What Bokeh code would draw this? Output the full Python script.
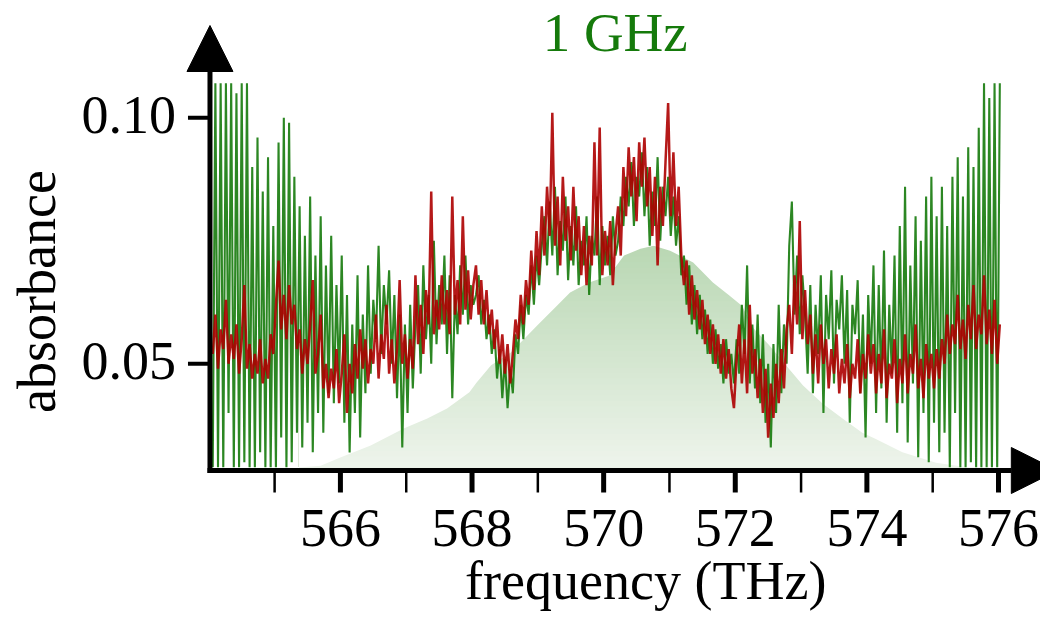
import numpy as np
from bokeh.plotting import figure
from bokeh.models import Range1d, Arrow, NormalHead
from bokeh.core.properties import value
from bokeh.embed import file_html
from bokeh.resources import INLINE

# ---------------- data ----------------
freq_start = 564.06   # THz, first sample
freq_step = 0.04      # THz between samples

# absorbance in units of 1e-3 (as seen in the plotted window), 25 samples per THz row
red_milli = [
    52,60,49,57,53,63,50,56,51,58,48,55,66,49,54,47,52,48,55,46,51,47,56,52,62,
    71,57,64,55,66,58,62,53,57,48,55,50,58,67,48,52,60,45,50,43,49,45,53,42,48,
    56,40,50,44,54,47,57,49,55,46,53,50,60,47,56,51,62,48,55,46,53,67,50,56,47,
    55,49,68,54,62,52,65,58,85,56,63,57,68,58,65,56,84,60,67,58,80,61,69,59,66,
    70,60,67,58,65,56,61,53,59,50,56,48,54,46,52,59,55,64,58,67,62,73,65,77,68,
    82,72,86,76,101,74,84,70,88,75,82,71,86,73,80,68,78,66,76,70,95,72,98,68,77,
    70,79,66,76,82,72,90,80,94,84,92,79,95,86,96,82,90,76,88,70,86,78,91,103,80,
    93,78,86,72,66,71,60,68,59,65,57,63,54,60,52,58,50,56,48,55,47,53,45,41,51,
    58,46,55,44,62,48,53,43,51,40,49,35,46,39,50,42,53,45,57,62,52,68,58,79,55,
    65,54,60,48,56,46,58,50,55,45,53,48,56,44,51,46,54,43,50,47,55,44,52,47,56,
    48,54,44,52,46,57,43,50,47,55,42,51,46,56,44,52,48,58,45,51,43,54,47,52,45,
    53,47,55,50,60,52,58,54,64,53,59,51,62,55,66,53,60,56,68,54,61,52,63,50,58,
]
green_milli = [
    29,107,29,107,29,107,40,107,29,105,29,107,30,107,29,90,29,96,32,85,29,92,29,78,29,
    95,35,100,29,99,30,88,36,82,33,76,38,84,32,72,40,80,36,70,44,76,42,66,46,72,
    38,64,32,58,40,68,35,60,44,70,48,63,55,74,52,66,58,69,50,64,43,60,33,58,40,
    62,45,58,66,48,70,55,64,50,75,54,66,58,72,52,68,43,64,56,70,60,72,58,66,62,
    64,68,58,63,55,60,52,57,47,53,43,51,41,49,44,56,52,62,55,64,60,70,62,72,66,
    74,80,70,83,72,86,68,79,73,84,67,78,70,82,66,75,70,80,64,76,72,84,66,78,70,
    76,68,80,72,75,84,78,88,82,91,78,88,84,93,80,90,74,85,78,92,75,86,80,88,76,
    84,74,80,68,72,62,70,58,66,56,64,55,61,52,59,50,57,49,54,46,55,48,52,46,55,
    48,62,52,70,46,58,45,60,42,56,38,50,33,54,40,62,44,58,50,74,83,60,72,56,68,
    60,48,66,44,62,52,68,40,64,55,69,46,63,57,68,50,65,38,62,56,67,44,60,35,64,
    50,70,40,66,45,73,38,62,48,72,36,78,42,86,34,70,46,80,31,75,40,84,30,88,38,
    80,32,86,36,78,29,88,40,92,29,84,29,94,30,90,29,98,29,107,29,104,29,107,29,107,
]

# shaded reference profile
profile_freq = [565.37,565.70,565.97,566.46,566.97,567.32,567.62,567.96,568.07,568.29,
                568.59,568.99,569.29,569.49,569.78,570.08,570.31,570.56,570.76,571.01,
                571.36,571.66,571.91,572.10,572.28,572.52,572.77,573.03,573.33,573.63,
                573.93,574.12,574.54,575.05,575.55,575.85]
profile_abs = [0.0289,0.0293,0.0308,0.0334,0.0369,0.0389,0.0409,0.0442,0.0462,0.0497,
               0.0523,0.0578,0.0618,0.0645,0.0665,0.0679,0.0720,0.0734,0.0740,0.0730,
               0.0706,0.0665,0.0639,0.0618,0.0572,0.0537,0.0497,0.0456,0.0419,0.0389,
               0.0360,0.0348,0.0320,0.0299,0.0289,0.0289]

x_ticks = [566, 568, 570, 572, 574, 576]
x_tick_labels = ["566", "568", "570", "572", "574", "576"]
x_minor_ticks = [565, 567, 569, 571, 573, 575]
y_ticks = [0.05, 0.10]
y_tick_labels = ["0.05", "0.10"]
title_text = "1 GHz"
x_label = "frequency (THz)"
y_label = "absorbance"

# ---------------- layout / styling ----------------
FONT = "Liberation Serif"
FS = "54px"
GREEN = "#157a0b"
RED = "#ad0000"
W, H = 1040, 614
TXT_SHIFT = 21   # px: rendered text sits this far below its anchor

# reference-pixel -> data conversion, used only for placing decorations
REF_PX_X, PX_Y = 66.83, 4920.0
def dx(px): return 564.0 + (px - 208.3) / REF_PX_X
def dy(py): return 0.05 + (363.3 - py) / PX_Y

# actual horizontal scale: slightly compressed so the last tick label fits
PX_X = (998 - 208.3) / 12.0
X0 = 564.0 - 208.3 / PX_X
X1 = 564.0 + (W - 208.3) / PX_X
Y0, Y1 = dy(H), dy(0)
clip_low = 0.0289
x_axis_y = dy(470)
y_axis_x = dx(209.5)

freq = freq_start + freq_step * np.arange(len(red_milli))
red = np.array(red_milli) / 1000.0
green = np.array(green_milli) / 1000.0

p = figure(width=W, height=H, x_range=Range1d(X0, X1), y_range=Range1d(Y0, Y1),
           output_backend="svg", toolbar_location=None,
           min_border_left=0, min_border_right=0, min_border_top=0, min_border_bottom=0)
p.background_fill_color = "white"
p.border_fill_color = "white"
p.outline_line_color = None
p.grid.visible = False
p.xaxis.visible = False
p.yaxis.visible = False

# gradient shaded profile: nested rectangles then a white mask above the profile
peak = max(profile_abs)
n_bands = 40
levels = np.linspace(clip_low, peak, n_bands + 1)
c_top = np.array([186, 216, 180])
c_bot = np.array([239, 245, 237])
for k in range(n_bands, 0, -1):
    t = (levels[k] - clip_low) / (peak - clip_low)
    c = (c_bot + (c_top - c_bot) * t).astype(int)
    p.quad(left=profile_freq[0], right=profile_freq[-1], bottom=clip_low, top=levels[k],
           fill_color="#%02x%02x%02x" % tuple(c), line_color=None)
p.varea(x=profile_freq, y1=profile_abs, y2=Y1, fill_color="white")

p.line(freq, green, line_color=GREEN, line_width=2.1, line_alpha=0.9)
p.line(freq, red, line_color=RED, line_width=2.5, line_alpha=0.9)

# ticks
tick_len_x = 22 / PX_Y
p.segment(x0=x_ticks, y0=[x_axis_y] * len(x_ticks), x1=x_ticks,
          y1=[x_axis_y - tick_len_x] * len(x_ticks), line_color="black", line_width=5)
p.segment(x0=x_minor_ticks, y0=[x_axis_y] * len(x_minor_ticks), x1=x_minor_ticks,
          y1=[x_axis_y - tick_len_x] * len(x_minor_ticks), line_color="black", line_width=2.5)
tick_len_y = 22 / PX_X
p.segment(x0=[y_axis_x] * len(y_ticks), y0=y_ticks, x1=[y_axis_x - tick_len_y] * len(y_ticks),
          y1=y_ticks, line_color="black", line_width=4)

# tick labels
p.text(x=x_ticks, y=[dy(548 - TXT_SHIFT)] * len(x_ticks), text=x_tick_labels,
       text_font=value(FONT), text_font_size=value(FS), text_color="black",
       text_align=value("center"), text_baseline=value("alphabetic"))
p.text(x=[dx(175)] * len(y_ticks), y=[t - (18 - TXT_SHIFT) / PX_Y for t in y_ticks],
       text=y_tick_labels,
       text_font=value(FONT), text_font_size=value(FS), text_color="black",
       text_align=value("right"), text_baseline=value("alphabetic"))

# axis labels and title
p.text(x=[dx(652)], y=[dy(601 - TXT_SHIFT)], text=[x_label], text_font=value(FONT),
       text_font_size=value(FS), text_color="black",
       text_align=value("center"), text_baseline=value("alphabetic"))
p.text(x=[dx(55 - TXT_SHIFT)], y=[dy(291)], text=[y_label], angle=np.pi / 2,
       text_font=value(FONT), text_font_size=value(FS), text_color="black",
       text_align=value("center"), text_baseline=value("alphabetic"))
p.text(x=[dx(621)], y=[dy(53 - TXT_SHIFT)], text=[title_text], text_font=value(FONT),
       text_font_size=value("55px"), text_color=GREEN,
       text_align=value("center"), text_baseline=value("alphabetic"))

# axis lines with arrow heads
p.add_layout(Arrow(x_start=y_axis_x, y_start=x_axis_y - 2.5 / PX_Y, x_end=y_axis_x, y_end=dy(25),
                   line_color="black", line_width=5,
                   end=NormalHead(size=46, fill_color="black", line_color="black", line_width=1)))
p.add_layout(Arrow(x_start=y_axis_x - 2.5 / PX_X, y_start=x_axis_y, x_end=dx(1070), y_end=x_axis_y,
                   line_color="black", line_width=5,
                   end=NormalHead(size=46, fill_color="black", line_color="black", line_width=1)))

open("out.html", "w").write(file_html(p, INLINE))
